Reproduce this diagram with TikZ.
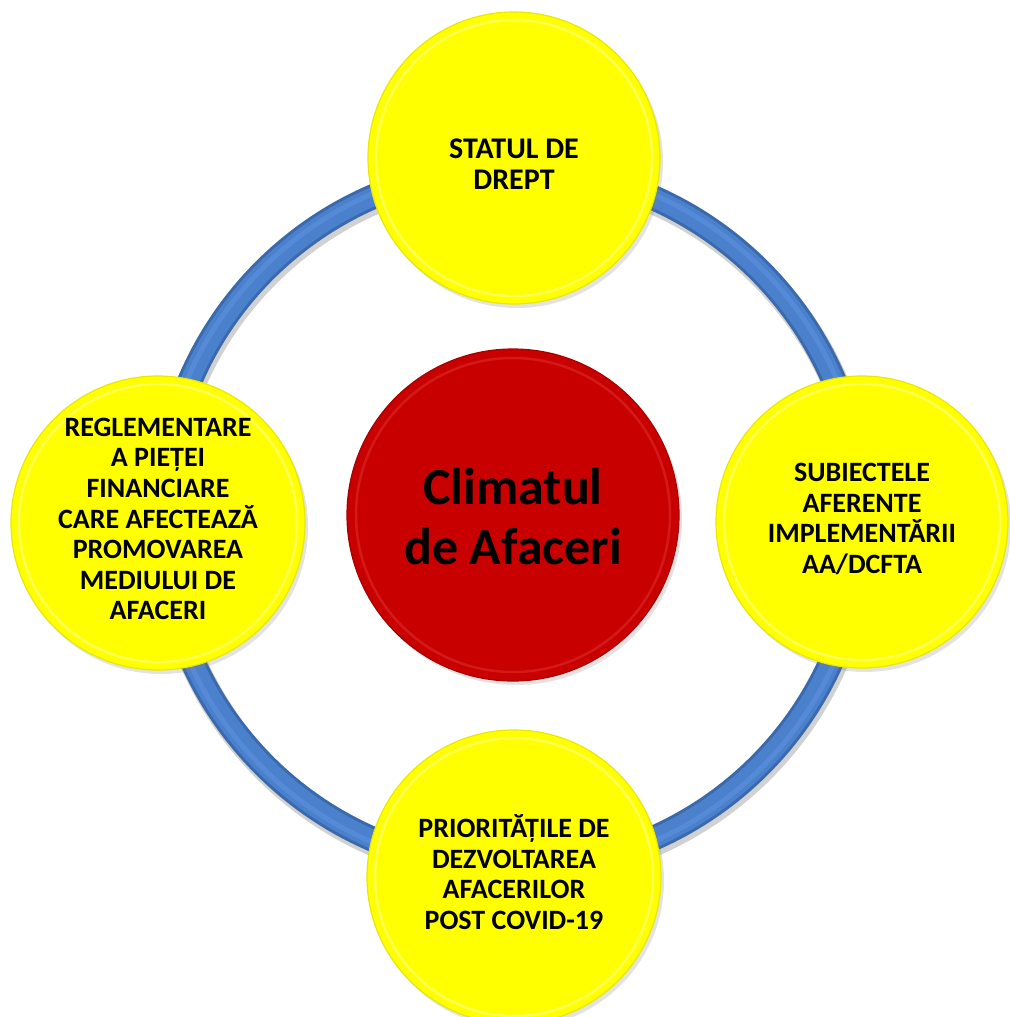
\documentclass[tikz,border=0pt]{standalone}
\usepackage{fontspec}
\setmainfont{Carlito}
\usetikzlibrary{shadows}
\definecolor{ringdark}{HTML}{3A69AC}
\definecolor{ringmid}{HTML}{4A80CC}
\definecolor{ringlight}{HTML}{5B91DB}
\definecolor{ballyellow}{HTML}{FFFF00}
\definecolor{yellowrim}{HTML}{E8E800}
\definecolor{yellowhi}{HTML}{FFFF66}
\definecolor{ballred}{HTML}{C80000}
\definecolor{redrim}{HTML}{A80000}
\definecolor{redhi}{HTML}{D82020}
\tikzset{
  ball/.style={circle, fill=ballyellow, draw=yellowrim, line width=1.2pt, inner sep=0pt,
    drop shadow={opacity=0.22, shadow xshift=3pt, shadow yshift=-4pt}},
  core/.style={circle, fill=ballred, draw=redrim, line width=1.2pt, inner sep=0pt,
    drop shadow={opacity=0.22, shadow xshift=3pt, shadow yshift=-4pt}},
  balltext/.style={align=center, inner sep=0pt, font=\bfseries\fontsize{28}{30.6}\selectfont},
  coretext/.style={align=center, inner sep=0pt, font=\bfseries\fontsize{52}{60}\selectfont},
  rimy/.style={draw=yellowhi, line width=2.5pt, opacity=0.8},
  rimr/.style={draw=redhi, line width=2.5pt, opacity=0.8},
}
\begin{document}
\begin{tikzpicture}[x=1pt,y=-1pt]
\useasboundingbox (0,0) rectangle (1009,1017);
\coordinate (hub) at (512,518);
% ring
\draw[black, opacity=0.18, line width=27pt] ([shift={(2,4)}]hub) circle (350pt);
\draw[ringdark, line width=25pt] (hub) circle (350pt);
\draw[ringmid, line width=19pt] (hub) circle (350pt);
\draw[ringlight, line width=5pt, opacity=0.7] (hub) circle (353pt);
% balls
\node[ball, minimum size=292pt] (top) at (514,158) {};
\node[ball, minimum size=294pt] (left) at (158,523) {};
\node[ball, minimum size=292pt] (right) at (862,522) {};
\node[ball, minimum size=294pt] (bottom) at (514,877) {};
\node[core, minimum size=332pt] (center) at (513,515) {};
% rims
\draw[rimy] (top.center) circle (138pt);
\draw[rimy] (left.center) circle (139pt);
\draw[rimy] (right.center) circle (138pt);
\draw[rimy] (bottom.center) circle (139pt);
\draw[rimr] (center.center) circle (157pt);
% texts
\node[balltext, font=\bfseries\fontsize{30}{31}\selectfont] (topt) at ([yshift=-6]top.center) {STATUL DE\\DREPT};
\node[balltext] (leftt) at ([yshift=4]left.center) {REGLEMENTARE\\A PIEȚEI\\FINANCIARE\\CARE AFECTEAZĂ\\PROMOVAREA\\MEDIULUI DE\\AFACERI};
\node[balltext] (rightt) at ([yshift=3]right.center) {SUBIECTELE\\AFERENTE\\IMPLEMENTĂRII\\AA/DCFTA};
\node[balltext] (bottomt) at ([yshift=5]bottom.center) {PRIORITĂȚILE DE\\DEZVOLTAREA\\AFACERILOR\\POST COVID-19};
\node[coretext] (centert) at ([yshift=-1]center.center) {Climatul\\de Afaceri};
\end{tikzpicture}
\end{document}
